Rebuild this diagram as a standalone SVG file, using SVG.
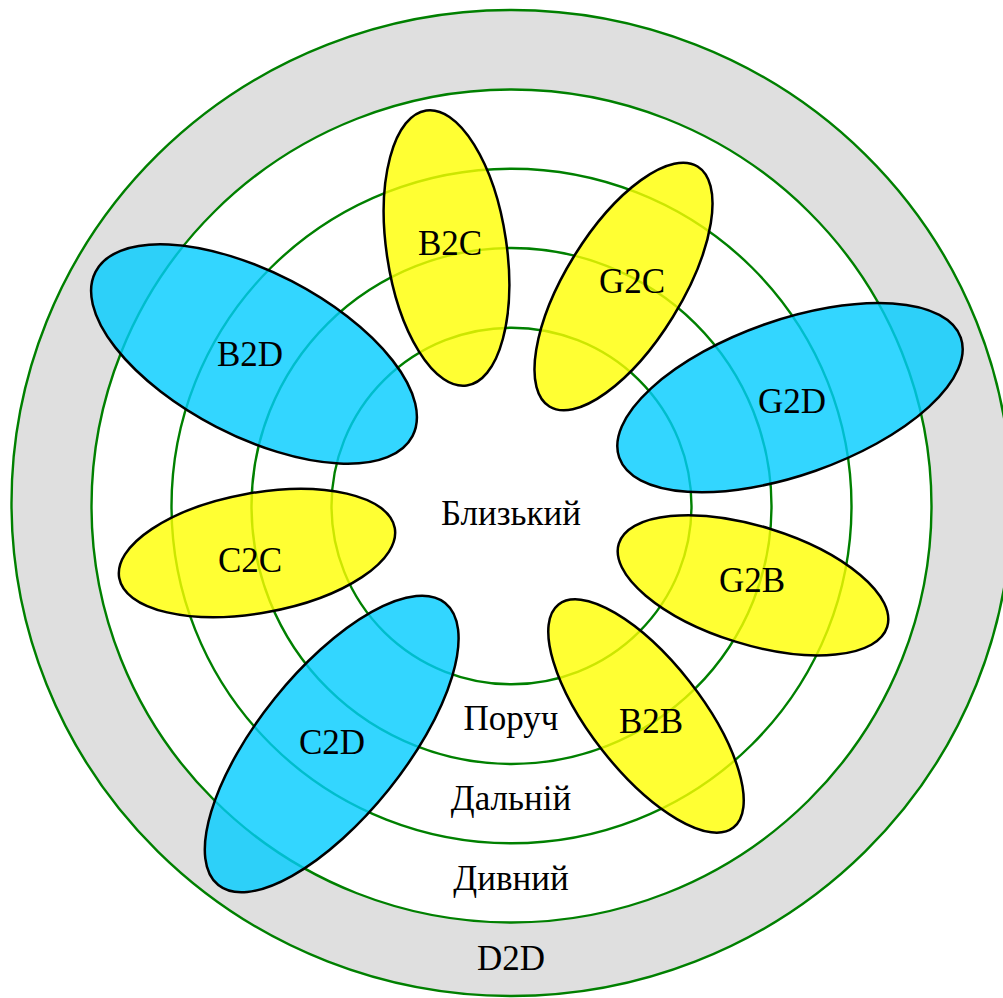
<svg xmlns="http://www.w3.org/2000/svg" width="1003" height="998" viewBox="0 0 1003 998">
<style>
.ring{fill:none;stroke:#008000;stroke-width:2.4}
.y{fill:#ffff00;fill-opacity:0.8;stroke:#000;stroke-width:2.5}
.b{fill:#00ccff;fill-opacity:0.8;stroke:#000;stroke-width:2.5}
text{font-family:"Liberation Serif","Times New Roman",serif;font-size:35px;fill:#000;text-anchor:middle}
</style>
<rect x="0" y="0" width="1003" height="998" fill="#fff"/>
<g id="rings" font-family="Liberation Serif, serif">
<ellipse cx="511.5" cy="503" rx="500" ry="493" fill="#dfdfdf"/>
<ellipse cx="511.5" cy="506" rx="420" ry="416.5" fill="#fff"/>
<ellipse class="ring" cx="511.5" cy="503" rx="500" ry="493"/>
<ellipse class="ring" cx="511.5" cy="506" rx="420" ry="416.5"/>
<ellipse class="ring" cx="511.5" cy="506" rx="340" ry="337.3"/>
<ellipse class="ring" cx="511.5" cy="506" rx="260" ry="258"/>
<ellipse class="ring" cx="511.5" cy="506" rx="180" ry="178.3"/>
<text x="511" y="525">Близький</text>
<text x="511" y="730">Поруч</text>
<text x="511" y="810">Дальній</text>
<text x="511" y="890">Дивний</text>
<text x="511" y="970">D2D</text>
</g>
<g id="B2C"><ellipse class="y" cx="446.5" cy="248" rx="60" ry="139" transform="rotate(-8.4 446.5 248)"/><text x="450" y="255">B2C</text></g>
<g id="G2C"><ellipse class="y" cx="623.5" cy="286.5" rx="58" ry="141" transform="rotate(31.7 623.5 286.5)"/><text x="632" y="293">G2C</text></g>
<g id="B2D"><ellipse class="b" cx="254" cy="354" rx="178.5" ry="82" transform="rotate(27.4 254 354)"/><text x="250" y="366">B2D</text></g>
<g id="C2C"><ellipse class="y" cx="257" cy="553" rx="140" ry="60" transform="rotate(-10.25 257 553)"/><text x="250" y="572">C2C</text></g>
<g id="G2D"><ellipse class="b" cx="790" cy="397.6" rx="181" ry="77.5" transform="rotate(-19.35 790 397.6)"/><text x="792" y="413">G2D</text></g>
<g id="G2B"><ellipse class="y" cx="753" cy="585.3" rx="140.5" ry="59" transform="rotate(17.25 753 585.3)"/><text x="752" y="592">G2B</text></g>
<g id="B2B"><ellipse class="y" cx="646" cy="716" rx="141.7" ry="55.5" transform="rotate(51.9 646 716)"/><text x="651" y="733">B2B</text></g>
<g id="C2D"><ellipse class="b" cx="331.7" cy="744" rx="181" ry="73" transform="rotate(-51.2 331.7 744)"/><text x="332" y="754">C2D</text></g>
<g id="connectors"></g>
</svg>
